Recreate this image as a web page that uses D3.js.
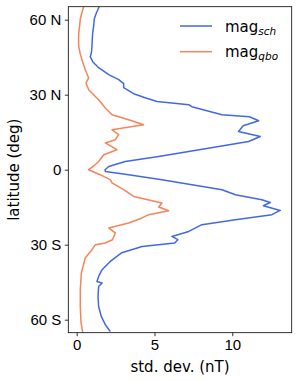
<!DOCTYPE html>
<html>
<head>
<meta charset="utf-8">
<script src="https://cdn.jsdelivr.net/npm/d3@7.9.0/dist/d3.min.js"></script>
<style>
  body { margin: 0; background: #fff; }
  svg { display: block; font-family: "DejaVu Sans", sans-serif; }
</style>
</head>
<body>
<div id="chart"></div>
<script>
// latitude (deg) and std. dev. (nT)
const latSch = [65.3, 62.5, 60.3, 57, 54.8, 52, 49.2, 47, 45.2, 43.2, 40.8, 38, 36, 34.4, 32.8, 30.4, 28.8, 27.3, 26, 25.2,
  22, 21.2, 19.6, 17.6, 15.3, 13.3, 11.3, 9.3, 7.3, 5.3, 3.3, 1.3, 0, -0.7, -2, -4, -6, -8, -10, -12,
  -13.1, -14.4, -16.3, -18, -20, -22, -24.7, -26.7, -28, -29.3, -30.7, -33.2, -36.7, -40, -42.7, -44.7, -45.3, -46.7,
  -50.7, -54.7, -58.7, -62, -64.7];
const magSch = [1.45, 1.25, 1.13, 1.08, 1.03, 1.0, 0.98, 0.95, 0.87, 1.03, 1.41, 2.06, 2.7, 3.02, 3.02, 3.66, 4.4, 5.16, 7.2, 7.4,
  9.34, 11.1, 11.7, 10.7, 10.4, 11.8, 11.05, 9.13, 7.2, 5.27, 3.12, 2.06, 1.82, 1.84, 3.34, 5.48, 7.41, 9.34, 10.2, 11.9,
  12.44, 12.0, 13.08, 12.55, 10.2, 8.05, 7.2, 6.12, 6.5, 6.3, 4.2, 2.9, 2.16, 1.63, 1.41, 1.3, 1.63, 1.41,
  1.37, 1.41, 1.58, 1.84, 2.16];

const latQbo = [65.3, 62.5, 60.3, 57, 54.7, 52, 49.3, 46.5, 44, 40, 36.7, 34.7, 32, 29.3, 28, 24.7, 22, 20, 18, 16,
  14, 12, 10.7, 8, 6, 3.3, 1.5, 0, -2, -4, -5.3, -8, -10.7, -13.3, -14.9, -16.4, -18, -19.3, -21.3, -23.3,
  -25.3, -28, -29.3, -30, -32, -35.3, -41.3, -48, -54.7, -61.3, -65.2];
const magQbo = [0.45, 0.32, 0.23, 0.18, 0.13, 0.12, 0.13, 0.22, 0.34, 0.55, 0.77, 0.6, 0.77, 1.2, 1.41, 1.84, 2.27, 3.34, 4.3, 2.27,
  2.7, 2.48, 1.84, 2.59, 1.74, 1.41, 1.1, 0.77, 1.5, 2.16, 2.27, 3.02, 3.66, 5.48, 5.27, 5.91, 4.63, 4.2, 3.34, 2.06,
  2.48, 2.3, 1.84, 1.2, 0.98, 0.55, 0.3, 0.23, 0.23, 0.28, 0.39];

const latTicks = [60, 30, 0, -30, -60];
const latTickLabels = ['60 N', '30 N', '0', '30 S', '60 S'];
const xTicks = [0, 5, 10];

const series = [
  { name: 'sch', lat: latSch, mag: magSch, color: '#4169e1' },
  { name: 'qbo', lat: latQbo, mag: magQbo, color: '#f4845a' },
];

const width = 298, height = 381;
const margin = { top: 6.7, right: 6.3, bottom: 48.3, left: 68.3 };

const svg = d3.select('#chart').append('svg')
  .attr('width', width).attr('height', height);

const xScale = d3.scaleLinear().domain([-0.54, 13.82]).range([margin.left, width - margin.right]);
const yScale = d3.scaleLinear().domain([-65.2, 65.2]).range([height - margin.bottom, margin.top]);

svg.append('clipPath').attr('id', 'plot-clip').append('rect')
  .attr('x', margin.left).attr('y', margin.top)
  .attr('width', width - margin.left - margin.right)
  .attr('height', height - margin.top - margin.bottom);

const line = d3.line().x(d => xScale(d[1])).y(d => yScale(d[0]));

svg.append('g').attr('clip-path', 'url(#plot-clip)')
  .selectAll('path')
  .data(series)
  .join('path')
  .attr('fill', 'none')
  .attr('stroke', d => d.color)
  .attr('stroke-width', 1.5)
  .attr('stroke-linejoin', 'round')
  .attr('d', d => line(d3.zip(d.lat, d.mag)));

// axes
const xAxis = svg.append('g')
  .attr('transform', `translate(0, ${height - margin.bottom})`)
  .call(d3.axisBottom(xScale).tickValues(xTicks).tickSize(3.5).tickPadding(3.5).tickSizeOuter(0));
const yAxis = svg.append('g')
  .attr('transform', `translate(${margin.left}, 0)`)
  .call(d3.axisLeft(yScale).tickValues(latTicks).tickFormat((d, i) => latTickLabels[i])
    .tickSize(3.5).tickPadding(3.5).tickSizeOuter(0));

[xAxis, yAxis].forEach(g => {
  g.select('.domain').remove();
  g.selectAll('line').attr('stroke', '#000').attr('stroke-width', 0.8);
  g.selectAll('text').attr('fill', '#000').style('font-size', '15px');
});

// frame
svg.append('rect')
  .attr('x', margin.left).attr('y', margin.top)
  .attr('width', width - margin.left - margin.right)
  .attr('height', height - margin.top - margin.bottom)
  .attr('fill', 'none').attr('stroke', '#000').attr('stroke-width', 0.8);

svg.append('text')
  .attr('x', (margin.left + width - margin.right) / 2).attr('y', 372)
  .attr('text-anchor', 'middle').style('font-size', '15px')
  .text('std. dev. (nT)');

svg.append('text')
  .attr('transform', `translate(19, ${(margin.top + height - margin.bottom) / 2}) rotate(-90)`)
  .attr('text-anchor', 'middle').style('font-size', '15px')
  .text('latitude (deg)');

// legend
const legend = svg.append('g').selectAll('g')
  .data(series)
  .join('g')
  .attr('transform', (d, i) => `translate(180, ${26 + i * 25.7})`);
legend.append('line')
  .attr('x1', 0).attr('x2', 32)
  .attr('stroke', d => d.color).attr('stroke-width', 1.5);
const label = legend.append('text')
  .attr('x', 45).attr('y', 5.5).style('font-size', '15px');
label.append('tspan').text('mag');
label.append('tspan')
  .attr('dy', 3).style('font-size', '10.5px').style('font-style', 'italic')
  .text(d => d.name);
</script>
</body>
</html>
